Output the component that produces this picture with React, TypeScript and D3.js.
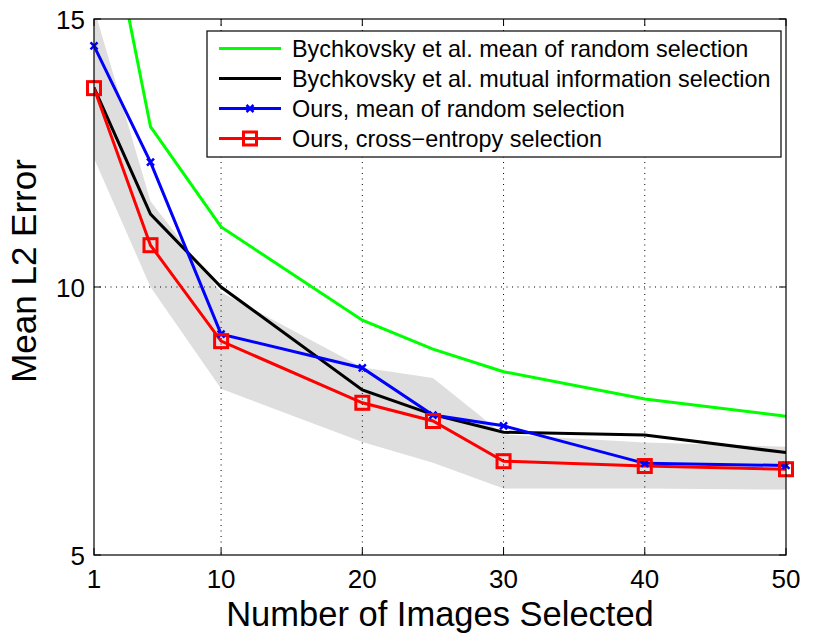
import React from "react";
import * as d3 from "d3";

const xs = [1, 5, 10, 20, 25, 30, 40, 50];
const greenVals = [18.3, 12.99, 11.12, 9.38, 8.84, 8.42, 7.91, 7.59];
const blackVals = [13.72, 11.36, 10.0, 8.08, 7.62, 7.29, 7.24, 6.91];
const blueVals = [14.5, 12.33, 9.12, 8.49, 7.61, 7.41, 6.71, 6.67];
const redVals = [13.71, 10.78, 8.99, 7.84, 7.5, 6.75, 6.66, 6.6];
const bandUpper = [15.2, 11.6, 9.9, 8.5, 8.3, 7.25, 7.1, 7.02];
const bandLower = [12.4, 10.0, 8.1, 7.11, 6.72, 6.24, 6.24, 6.22];
const xTicks = [1, 10, 20, 30, 40, 50];
const yTicks = [5, 10, 15];
const legendLabels = [
  "Bychkovsky et al. mean of random selection",
  "Bychkovsky et al. mutual information selection",
  "Ours, mean of random selection",
  "Ours, cross\u2212entropy selection",
];

const W = 831, H = 634;
const L = 94, R = 786, T = 19, B = 555;
const FONT = "'Liberation Sans', Arial, Helvetica, sans-serif";

export default function App() {
  const x = d3.scaleLinear().domain([1, 50]).range([L, R]);
  const y = d3.scaleLinear().domain([5, 15]).range([B, T]);
  const line = d3.line<number>().x((_, i) => x(xs[i])).y((v) => y(v));
  const area = d3
    .area<number>()
    .x((_, i) => x(xs[i]))
    .y0((_, i) => y(bandLower[i]))
    .y1((v) => y(v));

  const series = [
    { vals: greenVals, color: "#00ff00", marker: "none" },
    { vals: blackVals, color: "#000000", marker: "none" },
    { vals: blueVals, color: "#0000ff", marker: "x" },
    { vals: redVals, color: "#ff0000", marker: "square" },
  ];

  const drawMarker = (m: string, cx: number, cy: number, color: string, key: any) => {
    if (m === "x") {
      const s = 3.5;
      return (
        <path key={key} d={`M${cx - s},${cy - s}L${cx + s},${cy + s}M${cx - s},${cy + s}L${cx + s},${cy - s}`}
          stroke={color} strokeWidth={2.5} fill="none" />
      );
    }
    if (m === "square") {
      const s = 6.5;
      return <rect key={key} x={cx - s} y={cy - s} width={2 * s} height={2 * s} fill="none" stroke={color} strokeWidth={3} />;
    }
    return null;
  };

  const legX = 207, legY = 31, legW = 574, legH = 126;
  const rowY = [48.5, 78.5, 108.5, 138.5];

  return (
    <svg width={W} height={H} style={{ position: "absolute", left: 0, top: 0, background: "#fff" }} fontFamily={FONT}>
      <defs>
        <clipPath id="plotclip">
          <rect x={L} y={T} width={R - L} height={B - T} />
        </clipPath>
      </defs>
      <rect x={0} y={0} width={W} height={H} fill="#fff" />
      <g clipPath="url(#plotclip)">
        <path d={area(bandUpper) || ""} fill="#dedede" stroke="none" />
      </g>
      {/* grid */}
      {xTicks.filter((t) => t !== 1 && t !== 50).map((t) => (
        <line key={"gx" + t} x1={x(t)} x2={x(t)} y1={T} y2={B} stroke="#000" strokeWidth={1} strokeDasharray="1,4.5" />
      ))}
      {yTicks.filter((t) => t !== 5 && t !== 15).map((t) => (
        <line key={"gy" + t} x1={L} x2={R} y1={y(t)} y2={y(t)} stroke="#000" strokeWidth={1} strokeDasharray="1,4.5" />
      ))}
      {/* series */}
      <g clipPath="url(#plotclip)">
        {series.map((s, i) => (
          <path key={"s" + i} d={line(s.vals) || ""} fill="none" stroke={s.color} strokeWidth={3} strokeLinejoin="miter" />
        ))}
      </g>
      {series.map((s, i) => s.vals.map((v, j) => drawMarker(s.marker, x(xs[j]), y(v), s.color, "m" + i + "-" + j)))}
      {/* axes box */}
      <rect x={L} y={T} width={R - L} height={B - T} fill="none" stroke="#000" strokeWidth={1.2} />
      {xTicks.map((t) => (
        <g key={"tx" + t}>
          <line x1={x(t)} x2={x(t)} y1={B} y2={B - 7} stroke="#000" strokeWidth={1} />
          <line x1={x(t)} x2={x(t)} y1={T} y2={T + 7} stroke="#000" strokeWidth={1} />
          <text x={x(t)} y={588} fontSize={26} textAnchor="middle" fill="#000">{t}</text>
        </g>
      ))}
      {yTicks.map((t) => (
        <g key={"ty" + t}>
          <line x1={L} x2={L + 7} y1={y(t)} y2={y(t)} stroke="#000" strokeWidth={1} />
          <line x1={R} x2={R - 7} y1={y(t)} y2={y(t)} stroke="#000" strokeWidth={1} />
          <text x={85} y={y(t) + 10} fontSize={26} textAnchor="end" fill="#000">{t}</text>
        </g>
      ))}
      <text x={440} y={626} fontSize={34.5} textAnchor="middle" fill="#000">Number of Images Selected</text>
      <text transform={`translate(36,${(T + B) / 2 - 16}) rotate(-90)`} fontSize={35} textAnchor="middle" fill="#000">Mean L2 Error</text>
      {/* legend */}
      <rect x={legX} y={legY} width={legW} height={legH} fill="#fff" stroke="#000" strokeWidth={1.2} />
      {series.map((s, i) => (
        <g key={"lg" + i}>
          <line x1={219} x2={281} y1={rowY[i]} y2={rowY[i]} stroke={s.color} strokeWidth={3} />
          {drawMarker(s.marker, 250, rowY[i], s.color, "lm" + i)}
          <text x={292} y={rowY[i] + 8.5} fontSize={23.4} fill="#000">{legendLabels[i]}</text>
        </g>
      ))}
    </svg>
  );
}
